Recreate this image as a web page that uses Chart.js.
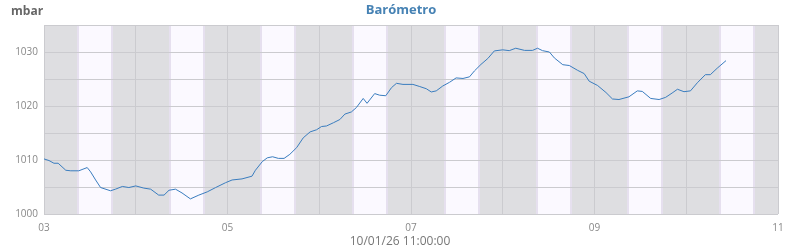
<!DOCTYPE html>
<html>
<head>
<meta charset="utf-8">
<script src="https://cdn.jsdelivr.net/npm/chart.js@4/dist/chart.umd.min.js"></script>
<style>
  html, body { margin: 0; padding: 0; background: #fff; }
  #wrap { width: 800px; height: 250px; position: relative; }
</style>
</head>
<body>
<div id="wrap"><canvas id="baro"></canvas></div>
<script>
// hours since 03/01 00:00
const hours = [0.0, 1.3, 2.6, 3.7, 5.7, 7.0, 9.1, 11.3, 12.2, 13.5, 14.8, 17.4, 18.7, 20.5, 22.2,
  24.0, 26.1, 27.9, 30.0, 31.4, 32.7, 34.4, 36.1, 38.3, 40.5, 42.7, 44.9, 47.5,
  49.2, 51.8, 54.4, 55.3, 57.1, 58.4, 59.8, 61.3, 62.8, 64.3, 66.1, 67.8, 69.6, 71.3,
  72.6, 73.9, 75.7, 77.4, 78.7, 80.4, 81.7, 83.5, 84.5, 86.5, 87.8, 89.4, 90.9, 92.2, 93.9,
  96.5, 98.3, 100.0, 101.3, 102.6, 104.3, 106.1, 107.8, 109.6, 111.3, 112.6, 114.3, 116.1, 117.8,
  120.0, 121.7, 123.4, 125.7, 127.8, 129.1, 130.4, 132.2, 133.5, 135.7, 137.4, 139.6, 141.3, 142.6,
  144.8, 147.0, 148.7, 150.4, 153.0, 155.2, 156.5, 158.7, 160.9, 162.6, 164.3, 165.7, 167.4,
  169.1, 170.9, 173.0, 174.3, 176.1, 178.4];
const mbar = [1010.2, 1009.9, 1009.4, 1009.4, 1008.1, 1008.0, 1008.0, 1008.6, 1007.8, 1006.3, 1004.9, 1004.3, 1004.6, 1005.1, 1004.9,
  1005.2, 1004.8, 1004.6, 1003.5, 1003.5, 1004.4, 1004.6, 1003.9, 1002.8, 1003.5, 1004.1, 1004.9, 1005.8,
  1006.3, 1006.5, 1007.0, 1008.1, 1009.7, 1010.4, 1010.6, 1010.3, 1010.3, 1011.05, 1012.3, 1014.1, 1015.2, 1015.6,
  1016.2, 1016.3, 1016.9, 1017.5, 1018.5, 1018.9, 1019.7, 1021.4, 1020.5, 1022.3, 1022.0, 1021.9, 1023.4, 1024.2, 1024.0,
  1024.0, 1023.6, 1023.2, 1022.6, 1022.8, 1023.7, 1024.4, 1025.2, 1025.1, 1025.4, 1026.5, 1027.7, 1028.8, 1030.2,
  1030.4, 1030.25, 1030.7, 1030.3, 1030.3, 1030.7, 1030.25, 1030.0, 1028.9, 1027.65, 1027.5, 1026.6, 1026.0, 1024.6,
  1023.8, 1022.5, 1021.3, 1021.2, 1021.7, 1022.8, 1022.7, 1021.4, 1021.2, 1021.6, 1022.4, 1023.1, 1022.65,
  1022.8, 1024.3, 1025.8, 1025.8, 1027.0, 1028.4];

const firstDay = 3;
const numDays = 8;
const sunrise = 8.6;   // hour of day
const sunset = 18.0;
const yMin = 1000, yMax = 1035;
const updated = '10/01/26 11:00:00';

const points = hours.map((h, i) => ({ x: h, y: mbar[i] }));

const dayNight = {
  id: 'dayNight',
  beforeDraw(chart) {
    const { ctx, chartArea: a, scales: { x } } = chart;
    ctx.save();
    ctx.fillStyle = '#dedee1';
    ctx.fillRect(a.left, a.top, a.right - a.left, a.bottom - a.top);
    for (let d = 0; d < numDays; d++) {
      const x1 = Math.round(x.getPixelForValue(d * 24 + sunrise));
      const x2 = Math.round(x.getPixelForValue(d * 24 + sunset));
      ctx.fillStyle = '#fbf9ff';
      ctx.fillRect(x1, a.top, x2 - x1, a.bottom - a.top);
      ctx.fillStyle = '#e6e0ef';
      ctx.fillRect(x1, a.top, 2, a.bottom - a.top);
      ctx.fillRect(x2 - 2, a.top, 2, a.bottom - a.top);
    }
    ctx.restore();
  },
  afterDraw(chart) {
    const { ctx } = chart;
    ctx.save();
    ctx.textBaseline = 'middle';
    ctx.font = 'bold 13px "Open Sans"';
    ctx.fillStyle = '#4682b4';
    ctx.textAlign = 'center';
    ctx.fillText('Barómetro', 401, 10);
    ctx.font = 'bold 12px "Open Sans"';
    ctx.fillStyle = '#666';
    ctx.textAlign = 'left';
    ctx.fillText('mbar', 11, 12);
    ctx.font = '12px "Open Sans"';
    ctx.fillStyle = '#777';
    ctx.textAlign = 'center';
    ctx.fillText(updated, 400, 242);
    ctx.restore();
  }
};

new Chart(document.getElementById('baro'), {
  type: 'line',
  data: {
    datasets: [{
      data: points,
      borderColor: '#3a7dbf',
      borderWidth: 1,
      pointRadius: 0,
      tension: 0,
      fill: false
    }]
  },
  options: {
    responsive: true,
    maintainAspectRatio: false,
    animation: false,
    layout: { padding: { top: 25, right: 22, left: 0, bottom: 0 } },
    plugins: { legend: { display: false }, tooltip: { enabled: false } },
    scales: {
      x: {
        type: 'linear',
        min: 0,
        max: numDays * 24,
        afterFit: s => { s.height = 36; },
        border: { display: false },
        grid: { color: '#cbcbcf', drawTicks: false },
        ticks: {
          stepSize: 24,
          autoSkip: false,
          maxRotation: 0,
          padding: 8,
          color: '#888',
          font: { family: 'Open Sans', size: 10 },
          callback: v => (v / 24) % 2 === 0 ? String(firstDay + v / 24).padStart(2, '0') : ''
        }
      },
      y: {
        min: yMin,
        max: yMax,
        afterFit: s => { s.width = 44; },
        border: { display: false },
        grid: { color: '#cbcbcf', drawTicks: false },
        ticks: {
          stepSize: 5,
          autoSkip: false,
          padding: 6,
          color: '#888',
          font: { family: 'Open Sans', size: 10 },
          callback: v => v % 10 === 0 ? v : ''
        }
      }
    }
  },
  plugins: [dayNight]
});
</script>
</body>
</html>
